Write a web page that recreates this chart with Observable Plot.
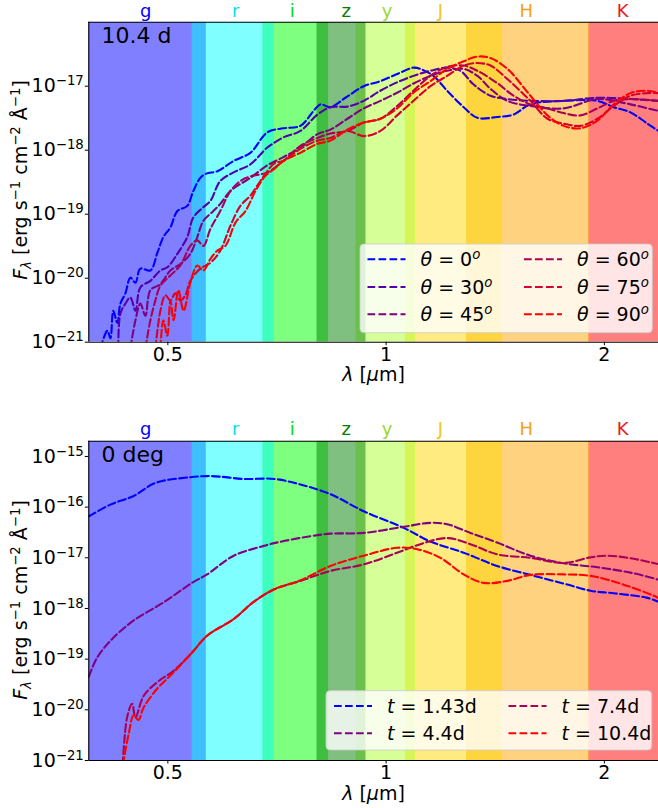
<!DOCTYPE html>
<html><head><meta charset="utf-8">
<script src="https://cdn.jsdelivr.net/npm/d3@7"></script>
<script src="https://cdn.jsdelivr.net/npm/@observablehq/plot@0.6"></script>
<style>
body{margin:0;background:#fff;}
#wrap{position:relative;width:658px;height:808px;overflow:hidden;font-family:"DejaVu Sans";}
#wrap svg{position:absolute;left:0;}
</style></head><body><div id="wrap"></div>
<script>
// ---- filter bands (microns) ----
const filterNames = ["g","r","i","z","y","J","H","K"];
const filterLo = [0.30, 0.540, 0.676, 0.803, 0.909, 1.063, 1.291, 1.903];
const filterHi = [0.565, 0.701, 0.833, 0.938, 1.098, 1.448, 1.913, 2.60];
const filterFill = ["#0000ff","#00ffff","#00ff00","#008000","#adff2f","#ffd700","#ffa500","#ff0000"];
const filterLayer = [4, 7, 5, 6, 3, 2, 1, 0];
const filterLabelX = [0.466, 0.620, 0.742, 0.881, 1.003, 1.188, 1.56, 2.12];
const filterLabelColor = ["#0000ff","#00e0e8","#00e000","#0a7a0a","#9bd62e","#f5c518","#f5a01a","#e81c1c"];

const xDomain = [0.389, 2.375];
const xTicks = [0.5, 1, 2];
const yTicksTop = [1e-21, 1e-20, 1e-19, 1e-18, 1e-17];
const yTicksBot = [1e-21, 1e-20, 1e-19, 1e-18, 1e-17, 1e-16, 1e-15];
const yDomainTop = [1e-21, 1e-16];
const yDomainBot = [1e-21, 2e-15];

// ---- top panel: 10.4 d, viewing angles ----
const thetaLabels = ["0", "30", "45", "60", "75", "90"];
const thetaColors = ["#0000ff","#5500aa","#800080","#aa0055","#d5002b","#ff0000"];
const top_th0 = [[0.4035,8e-22],[0.4126,1.51e-21],[0.4166,1.15e-21],[0.4205,3.1e-21],[0.4259,2.0e-21],[0.43,4.0e-21],[0.4369,5.8e-21],[0.4439,1.02e-20],[0.4511,8.5e-21],[0.4582,1.41e-20],[0.473,1.32e-20],[0.4837,2.5e-20],[0.4929,4.4e-20],[0.504,6.2e-20],[0.5153,1.12e-19],[0.5318,1.35e-19],[0.5421,2.3e-19],[0.5543,3.7e-19],[0.565,4.3e-19],[0.5851,4.7e-19],[0.616,6.8e-19],[0.6498,9.1e-19],[0.6858,1.9e-18],[0.7215,2.2e-18],[0.7617,2.4e-18],[0.794,4.1e-18],[0.8117,5.2e-18],[0.8378,4.7e-18],[0.8789,6.6e-18],[0.9314,1.0e-17],[0.982,1.2e-17],[1.0356,1.55e-17],[1.0907,1.95e-17],[1.115,1.86e-17],[1.162,1.45e-17],[1.2137,8.5e-18],[1.2794,4.7e-18],[1.3362,3.2e-18],[1.4228,3.3e-18],[1.4986,3.6e-18],[1.5813,5.2e-18],[1.7579,5.9e-18],[1.9561,5.9e-18],[2.0602,4.7e-18],[2.1727,3.9e-18],[2.2933,2.6e-18],[2.375,2.0e-18]];
const top_th30 = [[0.4272,8e-22],[0.43,2.8e-21],[0.4369,4.0e-21],[0.4439,5.0e-21],[0.4511,3.1e-21],[0.4582,7.2e-21],[0.473,9.1e-21],[0.4883,1.32e-20],[0.4992,1.48e-20],[0.5153,2.4e-20],[0.5318,4.4e-20],[0.5421,8.9e-20],[0.5598,1.29e-19],[0.5724,1.62e-19],[0.5906,3.3e-19],[0.616,4.5e-19],[0.6498,6.0e-19],[0.6858,1.1e-18],[0.7215,1.58e-18],[0.7617,2.0e-18],[0.8041,3.6e-18],[0.8378,4.7e-18],[0.8843,4.8e-18],[0.9314,5.9e-18],[0.982,8.5e-18],[1.0356,1.15e-17],[1.0907,1.45e-17],[1.151,1.74e-17],[1.2137,1.95e-17],[1.2662,1.74e-17],[1.3194,1.07e-17],[1.3929,7.1e-18],[1.4702,6.3e-18],[1.5813,5.9e-18],[1.7579,5.9e-18],[1.9561,6.6e-18],[2.1727,6.3e-18],[2.375,5.9e-18]];
const top_th45 = [[0.4439,8e-22],[0.4511,2.2e-21],[0.4582,4.0e-21],[0.4656,2.6e-21],[0.473,6.5e-21],[0.4883,8.1e-21],[0.504,1.32e-20],[0.5202,1.66e-20],[0.537,2.4e-20],[0.549,4.4e-20],[0.5598,7.9e-20],[0.5778,1.12e-19],[0.5906,1.45e-19],[0.6099,2.3e-19],[0.6498,3.7e-19],[0.6858,5.8e-19],[0.7215,7.8e-19],[0.7617,1.1e-18],[0.8041,1.78e-18],[0.8378,2.1e-18],[0.8843,3.1e-18],[0.9314,4.5e-18],[0.982,5.9e-18],[1.0356,7.9e-18],[1.0907,1.1e-17],[1.151,1.45e-17],[1.2137,1.74e-17],[1.2794,1.86e-17],[1.3362,1.45e-17],[1.3929,9.1e-18],[1.4702,5.9e-18],[1.5813,4.9e-18],[1.7579,4.5e-18],[1.9561,6.3e-18],[2.1727,5.2e-18],[2.375,4.1e-18]];
const top_th60 = [[0.4656,8e-22],[0.473,2.2e-21],[0.4806,4.5e-21],[0.4883,7.6e-21],[0.504,1.1e-20],[0.5202,1.58e-20],[0.537,3.2e-20],[0.549,3.9e-20],[0.5598,3.2e-20],[0.5724,5.9e-20],[0.5906,1.12e-19],[0.6099,2.3e-19],[0.6295,3.3e-19],[0.6498,3.9e-19],[0.6858,4.5e-19],[0.7215,6.8e-19],[0.7617,1.17e-18],[0.8041,1.55e-18],[0.8378,1.82e-18],[0.8843,2.0e-18],[0.9314,2.7e-18],[0.982,3.1e-18],[1.0356,4.9e-18],[1.0907,8.5e-18],[1.151,1.45e-17],[1.2137,2.0e-17],[1.2794,2.1e-17],[1.3362,1.74e-17],[1.4228,1.12e-17],[1.4986,7.1e-18],[1.5813,5.2e-18],[1.6696,4.5e-18],[1.7579,3.8e-18],[1.8535,3.5e-18],[1.9561,4.5e-18],[2.0602,5.9e-18],[2.1727,6.3e-18],[2.375,5.9e-18]];
const top_th75 = [[0.4806,8e-22],[0.4883,3.1e-21],[0.4961,5.4e-21],[0.504,4.5e-21],[0.5121,5.8e-21],[0.5202,4.5e-21],[0.5286,5.4e-21],[0.537,9.1e-21],[0.5543,1.41e-20],[0.5724,1.74e-20],[0.5906,2.7e-20],[0.6099,6.6e-20],[0.6295,1.35e-19],[0.6498,1.95e-19],[0.6708,3.3e-19],[0.7012,6.2e-19],[0.7215,6.8e-19],[0.7617,1.05e-18],[0.8041,1.41e-18],[0.8378,1.55e-18],[0.8843,2.0e-18],[0.9314,1.66e-18],[0.982,2.0e-18],[1.0356,3.5e-18],[1.0907,5.9e-18],[1.151,1.0e-17],[1.2137,1.45e-17],[1.2794,2.1e-17],[1.3362,2.3e-17],[1.3929,2.1e-17],[1.4702,1.29e-17],[1.5813,5.9e-18],[1.6696,3.1e-18],[1.7579,2.6e-18],[1.8535,2.4e-18],[1.9561,3.1e-18],[2.0602,4.9e-18],[2.1727,7.1e-18],[2.2933,7.8e-18],[2.375,7.8e-18]];
const top_th90 = [[0.4883,8e-22],[0.4929,2.2e-21],[0.4992,1.26e-21],[0.504,4.5e-21],[0.5093,2.2e-21],[0.517,6.5e-21],[0.5256,3.1e-21],[0.537,8.5e-21],[0.549,1.58e-20],[0.5598,1.32e-20],[0.5724,2.0e-20],[0.5851,2.7e-20],[0.6003,3.2e-20],[0.6198,7.4e-20],[0.6397,1.12e-19],[0.6604,2.3e-19],[0.6817,4.0e-19],[0.7012,5.1e-19],[0.7215,6.8e-19],[0.7617,9.1e-19],[0.8041,1.26e-18],[0.8378,1.41e-18],[0.8843,2.1e-18],[0.9314,2.7e-18],[0.982,3.1e-18],[1.0356,4.5e-18],[1.0907,7.9e-18],[1.151,1.2e-17],[1.2137,1.86e-17],[1.2794,2.45e-17],[1.3362,2.9e-17],[1.3929,2.75e-17],[1.4702,1.86e-17],[1.5813,7.1e-18],[1.6696,3.5e-18],[1.7579,2.4e-18],[1.8535,2.2e-18],[1.9561,2.9e-18],[2.0602,5.2e-18],[2.1727,7.8e-18],[2.2933,8.5e-18],[2.375,7.8e-18]];

// ---- bottom panel: 0 deg, epochs ----
const timeLabels = ["1.43", "4.4", "7.4", "10.4"];
const timeColors = ["#0000ff","#800080","#aa0055","#ff0000"];
const bot_t143 = [[0.389,6.6e-17],[0.4166,1.12e-16],[0.4486,1.66e-16],[0.4806,3.0e-16],[0.537,3.9e-16],[0.5664,4.1e-16],[0.5906,4.0e-16],[0.6356,3.6e-16],[0.7012,3.6e-16],[0.7617,2.8e-16],[0.8378,1.8e-16],[0.9314,8.3e-17],[1.0575,3.9e-17],[1.151,2.1e-17],[1.2794,1.26e-17],[1.4228,6.9e-18],[1.5813,4.6e-18],[1.7579,3.1e-18],[1.9133,2.24e-18],[2.0602,2.0e-18],[2.2933,1.62e-18],[2.375,1.35e-18]];
const bot_t44 = [[0.389,4.5e-20],[0.3994,1.07e-19],[0.4166,2.3e-19],[0.4486,5.8e-19],[0.4934,1.32e-18],[0.540,3.2e-18],[0.5664,4.7e-18],[0.6164,1.10e-17],[0.6765,1.70e-17],[0.7224,2.14e-17],[0.8041,2.8e-17],[0.8378,3.0e-17],[0.9314,3.1e-17],[1.0575,4.1e-17],[1.151,4.9e-17],[1.2137,4.6e-17],[1.307,3.1e-17],[1.4228,2.0e-17],[1.5813,1.1e-17],[1.7579,7.8e-18],[1.9561,6.5e-18],[2.1727,5.1e-18],[2.375,3.7e-18]];
const bot_t74 = [[0.4324,5e-22],[0.4393,7.1e-21],[0.4464,1.32e-20],[0.4511,7.1e-21],[0.4631,1.9e-20],[0.4832,3.5e-20],[0.5093,5.9e-20],[0.540,1.35e-19],[0.5664,2.9e-19],[0.6164,6.2e-19],[0.6567,1.35e-18],[0.7012,2.4e-18],[0.7617,3.5e-18],[0.8378,5.5e-18],[0.9314,7.4e-18],[1.0356,1.26e-17],[1.115,1.86e-17],[1.2137,2.45e-17],[1.307,1.86e-17],[1.4228,1.17e-17],[1.5813,1.0e-17],[1.7579,7.9e-18],[1.9133,1.02e-17],[2.0175,1.10e-17],[2.1727,9.8e-18],[2.375,7.5e-18]];
const bot_t104 = [[0.431,5e-22],[0.4416,3.4e-21],[0.4486,7.8e-21],[0.4553,6.3e-21],[0.4631,1.12e-20],[0.4832,2.6e-20],[0.5093,5.5e-20],[0.540,1.35e-19],[0.5664,2.9e-19],[0.6164,6.2e-19],[0.6567,1.35e-18],[0.7012,2.4e-18],[0.7617,3.6e-18],[0.8378,6.9e-18],[0.9314,1.10e-17],[1.0356,1.58e-17],[1.1036,1.48e-17],[1.1881,1.0e-17],[1.2794,4.7e-18],[1.3634,3.2e-18],[1.469,3.5e-18],[1.5813,4.6e-18],[1.7579,4.7e-18],[1.9133,4.4e-18],[2.1267,2.95e-18],[2.3397,1.78e-18],[2.375,1.6e-18]];

const topSeries = [top_th0, top_th30, top_th45, top_th60, top_th75, top_th90];
const botSeries = [bot_t143, bot_t44, bot_t74, bot_t104];

// ---- helpers ----
function rich(sel, parts, size) {
  let shift = 0;
  parts.forEach(p => {
    const ts = sel.append("tspan").text(p.t);
    const target = p.sup ? -0.37 * size : p.sub ? 0.22 * size : 0;
    if (target - shift !== 0) ts.attr("dy", target - shift);
    shift = target;
    if (p.sup || p.sub) ts.attr("font-size", size * 0.7);
    if (p.it) ts.attr("font-style", "italic");
  });
}

const bands = filterNames.map((n, i) => ({name: n, lo: filterLo[i], hi: filterHi[i], fill: filterFill[i], layer: filterLayer[i]}))
  .sort((a, b) => a.layer - b.layer);
const flabels = filterNames.map((n, i) => ({name: n, x: filterLabelX[i], color: filterLabelColor[i]}));

function panel(cfg) {
  const rows = cfg.series.flatMap((s, k) => s.map(([lam, f]) => ({lam, f, key: k, color: cfg.colors[k]})));
  const svg = Plot.plot({
    width: 658, height: cfg.height,
    marginLeft: 88.3, marginRight: 0, marginTop: cfg.mt, marginBottom: cfg.mb,
    style: {fontFamily: "DejaVu Sans", fontSize: "19px", color: "#000", background: "none", overflow: "visible"},
    x: {type: "log", domain: xDomain},
    y: {type: "log", domain: cfg.yDomain},
    color: {type: "identity"},
    marks: [
      Plot.rect(bands, {x1: "lo", x2: "hi", fill: d => d.fill, fillOpacity: 0.5, clip: true}),
      Plot.line(rows, {x: "lam", y: "f", z: "key", stroke: d => d.color, strokeWidth: 2.1,
        strokeDasharray: "7.7,3.3", curve: "catmull-rom", clip: true}),
      Plot.ruleX([xDomain[0]], {stroke: "#000", strokeWidth: 1.1}),
      Plot.ruleY(cfg.yDomain, {stroke: "#000", strokeWidth: 1.1}),
      Plot.axisX({ticks: xTicks, tickFormat: d => String(d), tickSize: 3.5, tickPadding: 1.5, label: null, fontSize: 19}),
      Plot.axisY({ticks: cfg.yTicks, tickFormat: d => "10^" + Math.round(Math.log10(d)), tickSize: 3.5, tickPadding: 1.5, label: null, fontSize: 19}),
      Plot.text(flabels, {x: "x", text: "name", fill: d => d.color, frameAnchor: "top", dy: cfg.labelDy, fontSize: 18, lineAnchor: "middle"})
    ]
  });
  const s = d3.select(svg);
  s.style("top", cfg.top + "px");
  s.selectAll('g[aria-label="y-axis tick label"] text').each(function() {
    const t = this.textContent;
    if (t.startsWith("10^")) {
      const e = t.slice(3).replace("-", "\u2212");
      d3.select(this).text("");
      rich(d3.select(this), [{t: "10"}, {t: e, sup: true}], 19);
    }
  });
  const g = s.append("g").attr("font-family", "DejaVu Sans").attr("fill", "#000").attr("text-anchor", "start");
  // annotation
  g.append("text").attr("x", 101.5).attr("y", cfg.annY).attr("font-size", 22).attr("text-anchor", "start").text(cfg.ann);
  // y label
  const yl = g.append("text").attr("transform", `translate(27,${cfg.ylCy}) rotate(-90)`).attr("text-anchor", "middle").attr("font-size", 19);
  rich(yl, [{t: "F", it: true}, {t: "λ", it: true, sub: true}, {t: " [erg s"}, {t: "\u22121", sup: true}, {t: " cm"}, {t: "\u22122", sup: true}, {t: " Å"}, {t: "\u22121", sup: true}, {t: "]"}], 19);
  // x label
  const xl = g.append("text").attr("x", 373.5).attr("y", cfg.xlY).attr("text-anchor", "middle").attr("font-size", 19);
  rich(xl, [{t: "λ", it: true}, {t: " ["}, {t: "μ", it: true}, {t: "m]"}], 19);
  // legend
  const L = cfg.legend;
  g.append("rect").attr("x", L.x).attr("y", L.y).attr("width", L.w).attr("height", L.h).attr("rx", 4)
    .attr("fill", "#fff").attr("fill-opacity", 0.8).attr("stroke", "#cccccc").attr("stroke-opacity", 0.8).attr("stroke-width", 1);
  cfg.legendItems.forEach((it, k) => {
    const col = Math.floor(k / L.rows.length), row = k % L.rows.length;
    const cx = L.cols[col], cy = L.rows[row];
    g.append("line").attr("x1", cx).attr("x2", cx + 38).attr("y1", cy).attr("y2", cy)
      .attr("stroke", it.color).attr("stroke-width", 2.1).attr("stroke-dasharray", "7.7,3.3");
    const tx = g.append("text").attr("x", cx + 53).attr("y", cy + 6.8).attr("font-size", 19).attr("text-anchor", "start");
    rich(tx, it.parts, 19);
  });
  document.getElementById("wrap").appendChild(svg);
}

panel({
  top: 0, height: 400, mt: 21.7, mb: 58.3, yDomain: yDomainTop, yTicks: yTicksTop,
  series: topSeries, colors: thetaColors, labelDy: -11, ann: "10.4 d", annY: 43.3, ylCy: 180, xlY: 381,
  legend: {x: 360, y: 244, w: 292.3, h: 88.7, cols: [367.5, 524], rows: [259.3, 287, 314.3]},
  legendItems: thetaLabels.map((th, k) => ({color: thetaColors[k], parts: [{t: "θ", it: true}, {t: " = " + th}, {t: "o", it: true, sup: true}]}))
});
panel({
  top: 400, height: 408, mt: 40.7, mb: 48, yDomain: yDomainBot, yTicks: yTicksBot,
  series: botSeries, colors: timeColors, labelDy: -12, ann: "0 deg", annY: 62.3, ylCy: 200, xlY: 399.5,
  legend: {x: 326, y: 290.7, w: 325.7, h: 59.3, cols: [334, 508.5], rows: [306, 333.3]},
  legendItems: timeLabels.map((tl, k) => ({color: timeColors[k], parts: [{t: "t", it: true}, {t: " = " + tl + "d"}]}))
});
</script></body></html>
